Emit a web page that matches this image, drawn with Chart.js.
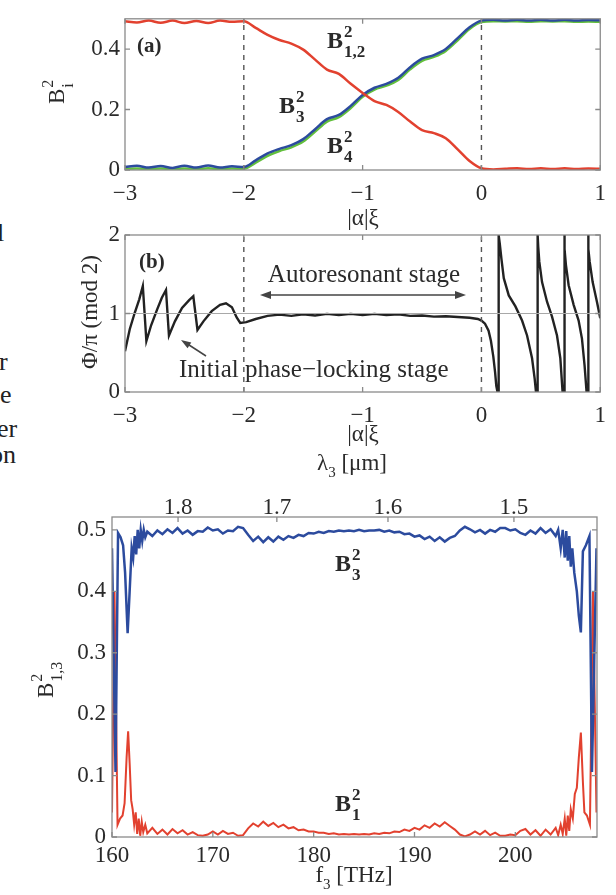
<!DOCTYPE html>
<html lang="en">
<head>
<meta charset="UTF-8">
<title>Autoresonant conversion</title>
<script src="https://cdn.jsdelivr.net/npm/chart.js"></script>
<style>
  body { margin: 0; background: #fff; }
  #wrap { position: relative; width: 616px; height: 895px; overflow: hidden; }
  canvas { position: absolute; left: 0; top: 0; }
  .frag { position: absolute; font-family: "Liberation Serif", serif; font-size: 26px; line-height: 26px; color: #222; white-space: nowrap; }
</style>
</head>
<body>
<div id="wrap">
  <!-- cut-off words of the surrounding text column -->
  <div class="frag" style="left:-3px;top:220px">l</div>
  <div class="frag" style="left:-1px;top:349px">r</div>
  <div class="frag" style="left:0px;top:382px">e</div>
  <div class="frag" style="left:-3px;top:416px">er</div>
  <div class="frag" style="left:-10px;top:442px">on</div>
  <canvas id="chartA" width="616" height="895"></canvas>
  <canvas id="chartB" width="616" height="895"></canvas>
  <canvas id="chartC" width="616" height="895"></canvas>
</div>

<script>
// ---------- panel (a): mode intensities vs |alpha| xi ----------
const xiA = [-3.0, -2.9, -2.8, -2.7, -2.6, -2.5, -2.4, -2.3, -2.2, -2.1,
             -2.0, -1.9, -1.8, -1.7, -1.6, -1.5, -1.4, -1.3, -1.2, -1.1,
             -1.0, -0.9, -0.8, -0.7, -0.6, -0.5, -0.4, -0.3, -0.2, -0.1,
              0.0,  0.1,  0.2,  0.3,  0.4,  0.5,  0.6,  0.7,  0.8,  0.9, 1.0];
const b12A = [0.492, 0.488, 0.494, 0.487, 0.494, 0.486, 0.493, 0.486, 0.494, 0.490,
              0.492, 0.470, 0.447, 0.430, 0.418, 0.398, 0.365, 0.332, 0.318, 0.285,
              0.255, 0.228, 0.215, 0.192, 0.160, 0.132, 0.122, 0.105, 0.068, 0.030,
              0.006, 0.002, 0.004, 0.006, 0.003, 0.006, 0.003, 0.006, 0.003, 0.005, 0.004];
const b3A  = [0.010, 0.014, 0.008, 0.013, 0.007, 0.014, 0.008, 0.015, 0.008, 0.012,
              0.010, 0.032, 0.055, 0.070, 0.082, 0.102, 0.135, 0.168, 0.182, 0.212,
              0.248, 0.272, 0.285, 0.305, 0.340, 0.368, 0.380, 0.400, 0.436, 0.472,
              0.494, 0.497, 0.494, 0.497, 0.494, 0.497, 0.494, 0.497, 0.494, 0.496, 0.495];
const b4A  = [0.004, 0.005, 0.003, 0.005, 0.003, 0.005, 0.003, 0.006, 0.003, 0.005,
              0.004, 0.024, 0.047, 0.063, 0.075, 0.094, 0.127, 0.160, 0.175, 0.205,
              0.242, 0.266, 0.279, 0.298, 0.333, 0.361, 0.374, 0.394, 0.429, 0.466,
              0.489, 0.492, 0.491, 0.492, 0.490, 0.492, 0.491, 0.492, 0.490, 0.491, 0.490];
const stageEdges = [-2, 0];
const xTicksAB = [-3, -2, -1, 0, 1];
const yTicksA = [0, 0.2, 0.4];

// ---------- panel (b): wrapped phase ----------
const xiB = [-3.0, -2.96, -2.92, -2.88, -2.85, -2.82, -2.78, -2.73, -2.69, -2.655,
             -2.63, -2.58, -2.52, -2.46, -2.425, -2.39, -2.34, -2.27, -2.2, -2.15,
             -2.1, -2.06, -2.03, -1.98, -1.9, -1.8, -1.7, -1.6, -1.5, -1.4,
             -1.3, -1.2, -1.1, -1.0, -0.9, -0.8, -0.7, -0.6, -0.5, -0.4,
             -0.3, -0.2, -0.1, -0.03, 0.0, 0.03, 0.06, 0.08, 0.10, 0.115,
             0.125, 0.135, 0.145, 0.145, 0.155, 0.168, 0.188, 0.23, 0.286, 0.342,
             0.384, 0.426, 0.448, 0.459, 0.473, 0.473, 0.478, 0.487, 0.51, 0.552,
             0.594, 0.636, 0.664, 0.683, 0.697, 0.697, 0.702, 0.711, 0.734, 0.776,
             0.818, 0.846, 0.868, 0.885, 0.897, 0.897, 0.903, 0.911, 0.936, 0.972, 1.0];
const phiB = [0.52, 0.80, 1.00, 1.18, 1.35, 0.65, 0.85, 1.05, 1.20, 1.30,
              0.72, 0.90, 1.07, 1.17, 1.22, 0.79, 0.90, 1.03, 1.11, 1.13,
              1.08, 0.95, 0.88, 0.89, 0.93, 0.97, 0.985, 0.97, 0.99, 0.975,
              0.995, 0.98, 0.995, 0.98, 0.995, 0.98, 0.99, 0.97, 0.975, 0.96,
              0.965, 0.955, 0.945, 0.93, 0.91, 0.87, 0.78, 0.65, 0.45, 0.25,
              0.08, 0.0, 0.0, 2.0, 1.88, 1.70, 1.45, 1.23, 1.09, 0.91,
              0.72, 0.43, 0.17, 0.0, 0.0, 2.0, 1.85, 1.66, 1.40, 1.15,
              0.96, 0.72, 0.43, 0.0, 0.0, 2.0, 1.82, 1.62, 1.36, 1.11,
              0.91, 0.68, 0.34, 0.0, 0.0, 2.0, 1.82, 1.66, 1.40, 1.15, 0.94];
const yTicksB = [0, 1, 2];

// ---------- panel (c): conversion vs idler frequency ----------
const fBlue = [160.0, 160.35, 160.6, 160.85, 161.1, 161.3, 161.55, 161.75, 161.95, 162.1,
               162.25, 162.4, 162.55, 162.7, 162.85, 163.0, 163.15, 163.3,
               163.5, 164, 164.5, 165, 165.5, 166, 166.5, 167,
               167.5, 168, 168.5, 169, 169.5, 170, 170.5, 171,
               171.5, 172, 172.5, 173, 173.5, 174, 174.5, 175,
               175.5, 176, 176.5, 177, 177.5, 178, 178.5, 179,
               179.5, 180, 180.5, 181, 181.5, 182, 182.5, 183,
               183.5, 184, 184.5, 185, 185.5, 186, 186.5, 187,
               187.5, 188, 188.5, 189, 189.5, 190, 190.5, 191,
               191.5, 192, 192.5, 193, 193.5, 194, 194.5, 195,
               195.5, 196, 196.5, 197, 197.5, 198, 198.5, 199,
               199.5, 200, 200.5, 201, 201.5, 202, 202.5, 203,
               203.5, 204,
               204.25, 204.5, 204.7, 204.9, 205.05, 205.2, 205.35, 205.5, 205.65, 205.85,
               206.1, 206.3, 206.5, 206.7, 207.0, 207.35, 207.6, 208.05];
const b3C = [0.470, 0.106, 0.495, 0.488, 0.475, 0.430, 0.332, 0.400, 0.470, 0.455,
             0.490, 0.460, 0.500, 0.470, 0.500, 0.482, 0.500, 0.488,
             0.497, 0.490, 0.499, 0.493, 0.501, 0.495, 0.503, 0.494,
             0.499, 0.492, 0.498, 0.497, 0.504, 0.499, 0.501, 0.494,
             0.499, 0.498, 0.505, 0.503, 0.492, 0.482, 0.489, 0.480,
             0.488, 0.481, 0.489, 0.484, 0.490, 0.487, 0.492, 0.490,
             0.495, 0.494, 0.497, 0.495, 0.498, 0.497, 0.499, 0.498,
             0.499, 0.498, 0.500, 0.498, 0.499, 0.499, 0.500, 0.497,
             0.499, 0.496, 0.497, 0.493, 0.494, 0.489, 0.491, 0.485,
             0.489, 0.482, 0.488, 0.481, 0.487, 0.490, 0.499, 0.505,
             0.501, 0.496, 0.500, 0.494, 0.500, 0.497, 0.503, 0.503,
             0.499, 0.501, 0.495, 0.492, 0.499, 0.494, 0.503, 0.495,
             0.501, 0.490,
             0.500, 0.470, 0.500, 0.455, 0.498, 0.450, 0.490, 0.440, 0.470, 0.430,
             0.400, 0.360, 0.333, 0.465, 0.475, 0.490, 0.106, 0.470];
const fRed = [160.0, 160.25, 160.55, 160.8, 161.05, 161.25, 161.45, 161.6, 161.75, 161.9,
              162.05, 162.2, 162.35, 162.5, 162.65, 162.8, 162.95, 163.1, 163.3,
              163.5, 164, 164.5, 165, 165.5, 166, 166.5, 167,
              167.5, 168, 168.5, 169, 169.5, 170, 170.5, 171,
              171.5, 172, 172.5, 173, 173.5, 174, 174.5, 175,
              175.5, 176, 176.5, 177, 177.5, 178, 178.5, 179,
              179.5, 180, 180.5, 181, 181.5, 182, 182.5, 183,
              183.5, 184, 184.5, 185, 185.5, 186, 186.5, 187,
              187.5, 188, 188.5, 189, 189.5, 190, 190.5, 191,
              191.5, 192, 192.5, 193, 193.5, 194, 194.5, 195,
              195.5, 196, 196.5, 197, 197.5, 198, 198.5, 199,
              199.5, 200, 200.5, 201, 201.5, 202, 202.5, 203,
              203.5, 204,
              204.25, 204.5, 204.7, 204.9, 205.05, 205.2, 205.35, 205.5, 205.7, 205.9,
              206.1, 206.3, 206.5, 206.7, 206.85, 207.1, 207.4, 207.7, 208.05];
const b1C = [0.040, 0.400, 0.020, 0.030, 0.035, 0.055, 0.130, 0.172, 0.120, 0.060,
             0.045, 0.020, 0.040, 0.005, 0.030, 0.002, 0.025, 0.008, 0.020,
             0.006, 0.015, 0.005, 0.012, 0.004, 0.013, 0.006, 0.011,
             0.004, 0.008, 0.003, 0.002, 0.004, 0.009, 0.004, 0.010,
             0.005, 0.007, 0.002, 0.003, 0.014, 0.022, 0.017, 0.025,
             0.018, 0.023, 0.016, 0.020, 0.014, 0.016, 0.011, 0.012,
             0.009, 0.009, 0.007, 0.007, 0.005, 0.006, 0.004, 0.005,
             0.004, 0.005, 0.004, 0.005, 0.004, 0.006, 0.005, 0.007,
             0.006, 0.009, 0.008, 0.012, 0.010, 0.015, 0.012, 0.019,
             0.015, 0.022, 0.017, 0.024, 0.018, 0.012, 0.004, 0.001,
             0.004, 0.009, 0.004, 0.010, 0.003, 0.007, 0.002, 0.002,
             0.004, 0.003, 0.010, 0.013, 0.004, 0.011, 0.002, 0.012,
             0.004, 0.015,
             0.003, 0.020, 0.005, 0.030, 0.002, 0.035, 0.010, 0.045, 0.030, 0.070,
             0.080, 0.130, 0.170, 0.090, 0.040, 0.035, 0.020, 0.400, 0.040];
const xTicksC = [160, 170, 180, 190, 200];
const yTicksC = [0, 0.1, 0.2, 0.3, 0.4, 0.5];
const lambdaTicks = [1.8, 1.7, 1.6, 1.5];   // top axis, micrometres
const LIGHT = 299.792458;                    // c in um*THz

const SERIF = '"Liberation Serif", "Times New Roman", serif';
const INK = '#2a2a2a';
const RED = '#e2412f', BLUE = '#2c4b9e', GREEN = '#62bf3c';

function pts(xs, ys) { return xs.map((x, i) => ({ x: x, y: ys[i] })); }

function fmt(v) {
  if (v === 0) return '0';
  const s = Number.isInteger(v) ? String(Math.abs(v)) : Math.abs(v).toFixed(1);
  return v < 0 ? '\u2212' + s : s;
}

function axis(pos, min, max, ticks, pad, size) {
  const horiz = pos === 'bottom' || pos === 'top';
  return {
    type: 'linear', position: pos, min: min, max: max,
    grid: { display: false, drawTicks: false },
    border: { display: false },
    ticks: { font: { family: SERIF, size: 23 }, color: INK, padding: pad,
             autoSkip: false, maxRotation: 0, minRotation: 0, callback: v => fmt(v) },
    afterBuildTicks: s => { s.ticks = ticks.map(v => ({ value: v })); },
    afterFit: s => { if (horiz) s.height = size; else s.width = size; }
  };
}

// MATLAB-like box with inward tick marks
const boxPlugin = {
  id: 'box',
  afterDatasetsDraw(chart) {
    const { ctx, chartArea: a, scales } = chart;
    const L = 5;
    ctx.save();
    ctx.strokeStyle = '#8a8a8a';
    ctx.lineWidth = 1.3;
    ctx.beginPath();
    scales.x.ticks.forEach(t => {
      const px = scales.x.getPixelForValue(t.value);
      ctx.moveTo(px, a.bottom); ctx.lineTo(px, a.bottom - L);
      if (!scales.x2) { ctx.moveTo(px, a.top); ctx.lineTo(px, a.top + L); }
    });
    if (scales.x2) scales.x2.ticks.forEach(t => {
      const px = scales.x2.getPixelForValue(t.value);
      ctx.moveTo(px, a.top); ctx.lineTo(px, a.top + L);
    });
    scales.y.ticks.forEach(t => {
      const py = scales.y.getPixelForValue(t.value);
      ctx.moveTo(a.left, py); ctx.lineTo(a.left + L, py);
      ctx.moveTo(a.right, py); ctx.lineTo(a.right - L, py);
    });
    ctx.stroke();
    ctx.strokeRect(a.left, a.top, a.width, a.height);
    ctx.restore();
  }
};

// "B" with stacked superscript / subscript
function drawB(ctx, x, base, sup, sub, size, bold) {
  const w = bold ? 'bold ' : '';
  ctx.textAlign = 'left';
  ctx.textBaseline = 'alphabetic';
  ctx.font = w + size + 'px ' + SERIF;
  ctx.fillText('B', x, base);
  const bw = ctx.measureText('B').width;
  ctx.font = w + Math.round(size * 0.7) + 'px ' + SERIF;
  ctx.fillText(sup, x + bw + 1, base - size * 0.47);
  ctx.fillText(sub, x + bw + 1, base + size * 0.38);
}

// symbol + subscript + rest, centred on cx
function drawSub(ctx, cx, base, sym, sub, rest, size) {
  const big = size + 'px ' + SERIF, small = Math.round(size * 0.65) + 'px ' + SERIF;
  ctx.font = big; const w1 = ctx.measureText(sym).width, w3 = ctx.measureText(rest).width;
  ctx.font = small; const w2 = ctx.measureText(sub).width;
  let x = cx - (w1 + w2 + w3) / 2;
  ctx.textAlign = 'left'; ctx.textBaseline = 'alphabetic';
  ctx.font = big; ctx.fillText(sym, x, base); x += w1;
  ctx.font = small; ctx.fillText(sub, x, base + size * 0.3); x += w2;
  ctx.font = big; ctx.fillText(rest, x, base);
}

function arrowHead(ctx, x0, y0, x1, y1, len, half) {
  const a = Math.atan2(y1 - y0, x1 - x0);
  ctx.beginPath();
  ctx.moveTo(x1, y1);
  ctx.lineTo(x1 - len * Math.cos(a) + half * Math.sin(a), y1 - len * Math.sin(a) - half * Math.cos(a));
  ctx.lineTo(x1 - len * Math.cos(a) - half * Math.sin(a), y1 - len * Math.sin(a) + half * Math.cos(a));
  ctx.closePath();
  ctx.fill();
}

function lineDs(data, color, width, extra) {
  return Object.assign({ data: data, showLine: true, borderColor: color, borderWidth: width,
                         pointRadius: 0, fill: false, tension: 0 }, extra || {});
}
function edgeDs(x, ylo, yhi) {
  return lineDs([{ x: x, y: ylo }, { x: x, y: yhi }], '#555', 1.4, { borderDash: [5, 5] });
}

const common = {
  animation: false, responsive: false, devicePixelRatio: 1, events: [],
  plugins: { legend: { display: false }, tooltip: { enabled: false } }
};

// ----- chart (a)
new Chart(document.getElementById('chartA'), {
  type: 'scatter',
  data: { datasets: [
    edgeDs(stageEdges[0], 0, 0.5), edgeDs(stageEdges[1], 0, 0.5),
    lineDs(pts(xiA, b12A), RED, 2.5, { cubicInterpolationMode: 'monotone' }),
    lineDs(pts(xiA, b3A), BLUE, 2.5, { cubicInterpolationMode: 'monotone' }),
    lineDs(pts(xiA, b4A), GREEN, 2.5, { cubicInterpolationMode: 'monotone' })
  ]},
  options: Object.assign({}, common, {
    layout: { padding: { left: 0, top: 14, right: 15, bottom: 670 } },
    scales: { x: axis('bottom', -3, 1, xTicksAB, 10, 55), y: axis('left', 0, 0.5, yTicksA, 5, 125) }
  }),
  plugins: [boxPlugin, {
    id: 'textA',
    afterDraw(chart) {
      const ctx = chart.ctx;
      ctx.save();
      ctx.fillStyle = INK;
      ctx.font = 'bold 21px ' + SERIF; ctx.textAlign = 'left'; ctx.textBaseline = 'alphabetic';
      ctx.fillText('(a)', 137, 52);
      drawB(ctx, 327, 48, '2', '1,2', 24, true);
      drawB(ctx, 279, 113, '2', '3', 24, true);
      drawB(ctx, 327, 153, '2', '4', 24, true);
      ctx.font = '23px ' + SERIF; ctx.textAlign = 'center';
      ctx.fillText('|\u03b1|\u03be', 363, 225);
      ctx.translate(64, 104); ctx.rotate(-Math.PI / 2);
      drawB(ctx, 0, 0, '2', 'i', 23, false);
      ctx.restore();
    }
  }]
});

// ----- chart (b)
new Chart(document.getElementById('chartB'), {
  type: 'scatter',
  data: { datasets: [
    lineDs([{ x: -3, y: 1 }, { x: 1, y: 1 }], '#a8a8a8', 1.2),
    edgeDs(stageEdges[0], 0, 2), edgeDs(stageEdges[1], 0, 2),
    lineDs(pts(xiB, phiB), '#222', 2.4)
  ]},
  options: Object.assign({}, common, {
    layout: { padding: { left: 0, top: 235, right: 15, bottom: 448 } },
    scales: { x: axis('bottom', -3, 1, xTicksAB, 10, 55), y: axis('left', 0, 2, yTicksB, 5, 125) }
  }),
  plugins: [boxPlugin, {
    id: 'textB',
    afterDraw(chart) {
      const ctx = chart.ctx;
      ctx.save();
      ctx.fillStyle = INK; ctx.strokeStyle = '#444';
      ctx.font = 'bold 21px ' + SERIF; ctx.textAlign = 'left'; ctx.textBaseline = 'alphabetic';
      ctx.fillText('(b)', 139, 268);
      ctx.font = '25px ' + SERIF;
      ctx.textAlign = 'center';
      ctx.fillText('Autoresonant stage', 364, 282);
      ctx.textAlign = 'left';
      ctx.fillText('Initial phase\u2212locking stage', 179, 377);
      // double arrow
      ctx.lineWidth = 1.5; ctx.fillStyle = '#444';
      ctx.beginPath(); ctx.moveTo(266, 295); ctx.lineTo(460, 295); ctx.stroke();
      arrowHead(ctx, 300, 295, 260, 295, 11, 4);
      arrowHead(ctx, 400, 295, 466, 295, 11, 4);
      // pointer to the initial oscillations
      ctx.beginPath(); ctx.moveTo(206, 356); ctx.lineTo(186, 343); ctx.stroke();
      arrowHead(ctx, 206, 356, 181, 340, 10, 3.5);
      ctx.fillStyle = INK;
      ctx.font = '23px ' + SERIF; ctx.textAlign = 'center';
      ctx.fillText('|\u03b1|\u03be', 363, 441);
      drawSub(ctx, 352, 470, '\u03bb', '3', ' [\u03bcm]', 23);
      ctx.translate(97, 312); ctx.rotate(-Math.PI / 2);
      ctx.font = '23px ' + SERIF; ctx.textAlign = 'center'; ctx.textBaseline = 'alphabetic';
      ctx.fillText('\u03a6/\u03c0 (mod 2)', 0, 0);
      ctx.restore();
    }
  }]
});

// ----- chart (c)
const topAxis = axis('top', 160, 208.1, lambdaTicks.map(l => LIGHT / l), -5, 40);
topAxis.ticks.callback = v => (LIGHT / v).toFixed(1);
new Chart(document.getElementById('chartC'), {
  type: 'scatter',
  data: { datasets: [
    lineDs(pts(fBlue, b3C), BLUE, 2.5),
    lineDs(pts(fRed, b1C), RED, 2)
  ]},
  options: Object.assign({}, common, {
    layout: { padding: { left: 0, top: 477, right: 19, bottom: 13 } },
    scales: {
      x: axis('bottom', 160, 208.1, xTicksC, 5, 45),
      x2: topAxis,
      y: axis('left', 0, 0.521, yTicksC, 6, 112)
    }
  }),
  plugins: [boxPlugin, {
    id: 'textC',
    afterDraw(chart) {
      const ctx = chart.ctx;
      ctx.save();
      ctx.fillStyle = INK;
      drawB(ctx, 335, 571, '2', '3', 24, true);
      drawB(ctx, 335, 811, '2', '1', 24, true);
      drawSub(ctx, 354, 882, 'f', '3', ' [THz]', 23);
      ctx.translate(53, 698); ctx.rotate(-Math.PI / 2);
      drawB(ctx, 0, 0, '2', '1,3', 23, false);
      ctx.restore();
    }
  }]
});
</script>
</body>
</html>
